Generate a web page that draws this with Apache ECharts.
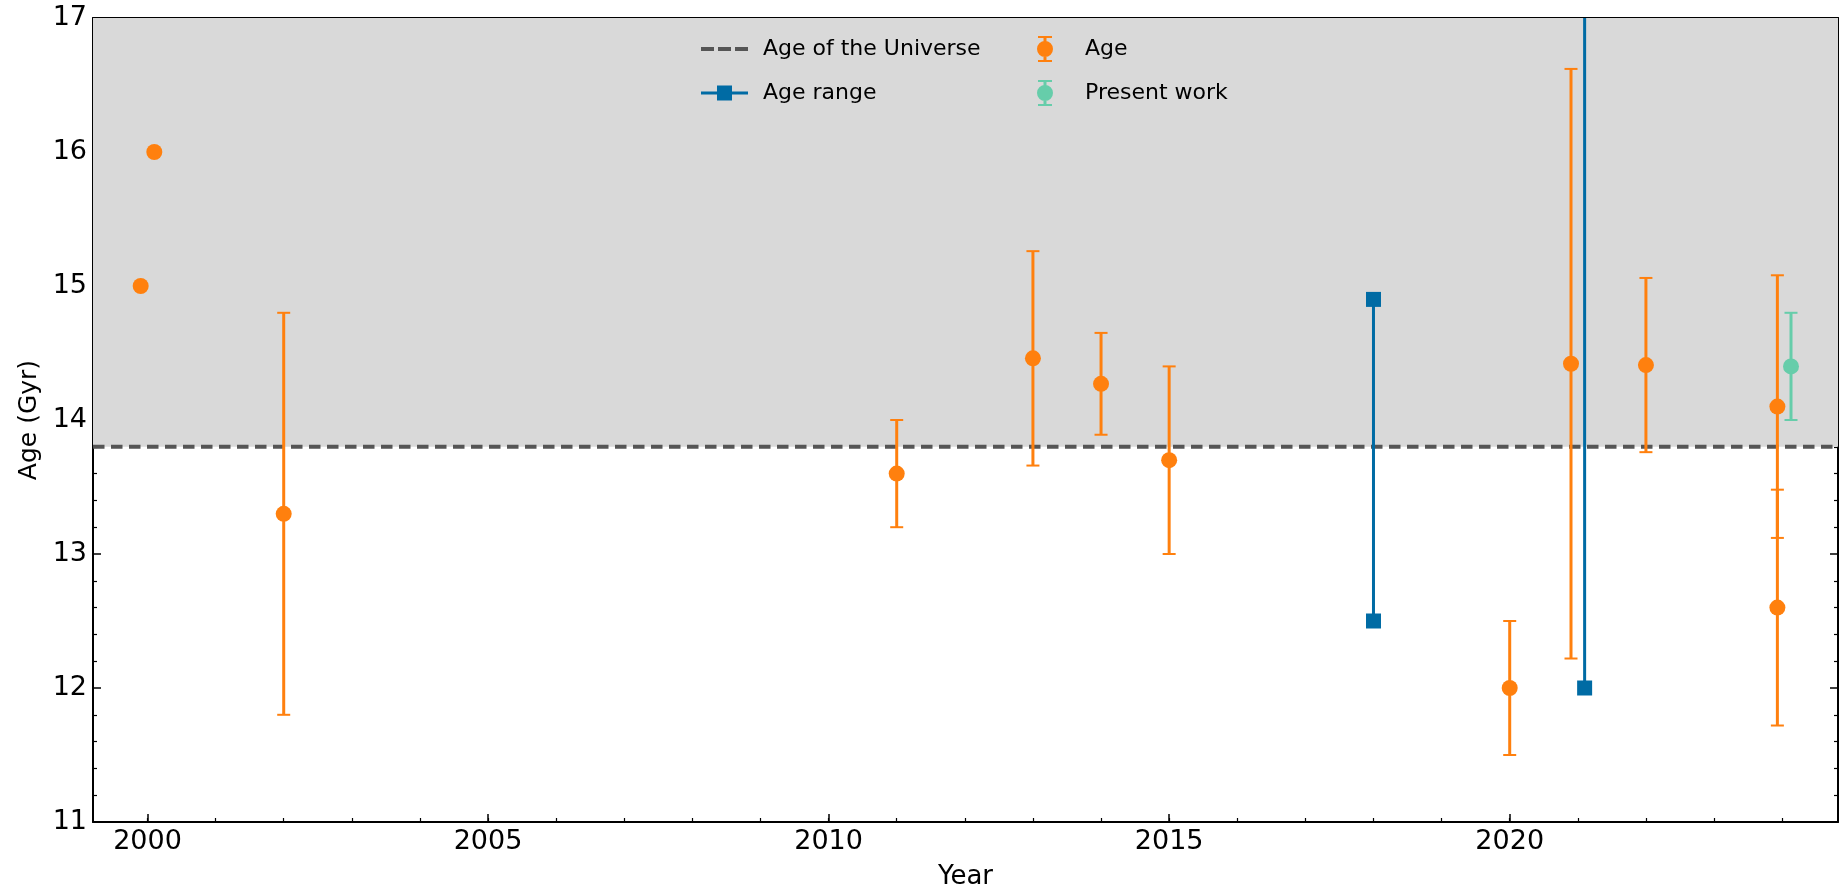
<!DOCTYPE html>
<html>
<head>
<meta charset="utf-8">
<script src="https://cdn.jsdelivr.net/npm/echarts@6/dist/echarts.min.js"></script>
<style>html,body{margin:0;padding:0;background:#fff}#c{width:1847px;height:891px}</style>
</head>
<body>
<div id="c"></div>
<script>
// ---------- data ----------
const xMajorTicks = [2000, 2005, 2010, 2015, 2020];
const xMinorTicks = [2000, 2001, 2002, 2003, 2004, 2005, 2006, 2007, 2008, 2009, 2010, 2011, 2012,
                     2013, 2014, 2015, 2016, 2017, 2018, 2019, 2020, 2021, 2022, 2023, 2024];
const yTickLabels = [11, 12, 13, 14, 15, 16, 17];
const X_MIN = 1999.2, X_MAX = 2024.82, Y_MIN = 11, Y_MAX = 17;

const ageOfUniverse = 13.8;

const ageYears  = [1999.9, 2000.1, 2002, 2011, 2013, 2014, 2015, 2020, 2020.9, 2022, 2023.93, 2023.93];
const ageValues = [15.0, 16.0, 13.3, 13.6, 14.46, 14.27, 13.7, 12.0, 14.42, 14.41, 14.1, 12.6];
const ageErrors = [0, 0, 1.5, 0.4, 0.8, 0.38, 0.7, 0.5, 2.2, 0.65, 0.98, 0.88];

const rangeYears = [2018, 2021.1];
const rangeLow   = [12.5, 12.0];
const rangeHigh  = [14.9, 18.0];

const presentYears  = [2024.13];
const presentValues = [14.4];
const presentErrors = [0.4];

// ---------- styles ----------
const FONT = 'DejaVu Sans';
const ORANGE = '#ff800e', BLUE = '#006ba4', GREEN = '#66cdaa', DASH = '#555555', SHADE = '#d9d9d9';

const ICON_DASH = 'path://M0 0H13V4H0Z M17 0H30V4H17Z M34 0H47V4H34Z';
const ICON_RANGE = 'path://M0 6H47V9H0Z M16 0H31V15H16Z';
const ICON_ERR = 'path://M1 0H15V2H1Z M1 24H15V26H1Z M6.5 0H9.5V26H6.5Z M0 13A8 8 0 1 1 16 13A8 8 0 1 1 0 13Z';

function errorBarRenderer(color) {
  return function (params, api) {
    const x = api.value(0), y = api.value(1), e = api.value(2);
    const c = api.coord([x, y]);
    const kids = [];
    if (e > 0) {
      const t = api.coord([x, y + e]), b = api.coord([x, y - e]);
      kids.push({type: 'line', shape: {x1: c[0], y1: t[1], x2: c[0], y2: b[1]}, style: {stroke: color, lineWidth: 3}});
      kids.push({type: 'line', shape: {x1: c[0] - 6.5, y1: t[1], x2: c[0] + 6.5, y2: t[1]}, style: {stroke: color, lineWidth: 2}});
      kids.push({type: 'line', shape: {x1: c[0] - 6.5, y1: b[1], x2: c[0] + 6.5, y2: b[1]}, style: {stroke: color, lineWidth: 2}});
    }
    kids.push({type: 'circle', shape: {cx: c[0], cy: c[1], r: 8}, style: {fill: color}});
    return {type: 'group', children: kids};
  };
}

function rangeRenderer(params, api) {
  const x = api.value(0), lo = api.value(1), hi = api.value(2);
  const a = api.coord([x, lo]), b = api.coord([x, hi]);
  const s = 15;
  return {type: 'group', children: [
    {type: 'line', shape: {x1: a[0], y1: a[1], x2: b[0], y2: b[1]}, style: {stroke: BLUE, lineWidth: 3}},
    {type: 'rect', shape: {x: a[0] - s / 2, y: a[1] - s / 2, width: s, height: s}, style: {fill: BLUE}},
    {type: 'rect', shape: {x: b[0] - s / 2, y: b[1] - s / 2, width: s, height: s}, style: {fill: BLUE}}
  ]};
}

const ageData = ageYears.map((x, i) => [x, ageValues[i], ageErrors[i]]);
const presentData = presentYears.map((x, i) => [x, presentValues[i], presentErrors[i]]);
const rangeData = rangeYears.map((x, i) => [x, rangeLow[i], rangeHigh[i]]);

function legend(name, icon, w, h, left, top, pad) {
  return {
    data: [name], icon: icon, itemWidth: w, itemHeight: h, left: left, top: top, padding: 0,
    selectedMode: false, orient: 'vertical',
    textStyle: {fontFamily: FONT, fontSize: 22, color: '#000', lineHeight: 26, padding: [0, 0, 0, pad]}
  };
}

const axisBase = {
  type: 'value', min: X_MIN, max: X_MAX,
  splitLine: {show: false}
};

const chart = echarts.init(document.getElementById('c'));
chart.setOption({
  animation: false,
  backgroundColor: '#fff',
  grid: {left: 93, right: 9, top: 18, bottom: 69, containLabel: false, outerBoundsMode: 'none'},
  legend: [
    legend('Age of the Universe', ICON_DASH, 47, 4, 701, 36, 10),
    legend('Age range', ICON_RANGE, 47, 15, 701, 80, 10),
    legend('Age', ICON_ERR, 16, 26, 1037, 36, 27),
    legend('Present work', ICON_ERR, 16, 26, 1037, 80, 27)
  ],
  xAxis: [
    Object.assign({}, axisBase, {
      position: 'bottom',
      axisLine: {show: true, lineStyle: {color: '#000', width: 2}},
      axisTick: {show: true, inside: true, length: 8, lineStyle: {color: '#000', width: 1.5}, customValues: xMajorTicks},
      axisLabel: {show: true, customValues: xMajorTicks, formatter: v => String(v),
                  fontFamily: FONT, fontSize: 27, color: '#000', margin: 6},
      name: 'Year', nameLocation: 'middle', nameGap: 42,
      nameTextStyle: {fontFamily: FONT, fontSize: 26, color: '#000'}
    }),
    Object.assign({}, axisBase, {
      position: 'bottom',
      axisLine: {show: false},
      axisTick: {show: true, inside: true, length: 4, lineStyle: {color: '#000', width: 1.2}, customValues: xMinorTicks},
      axisLabel: {show: false}
    }),
    Object.assign({}, axisBase, {
      position: 'top',
      axisLine: {show: true, lineStyle: {color: '#000', width: 2}},
      axisTick: {show: true, inside: true, length: 8, lineStyle: {color: '#000', width: 1.5}, customValues: xMajorTicks},
      axisLabel: {show: false}
    }),
    Object.assign({}, axisBase, {
      position: 'top',
      axisLine: {show: false},
      axisTick: {show: true, inside: true, length: 4, lineStyle: {color: '#000', width: 1.2}, customValues: xMinorTicks},
      axisLabel: {show: false}
    })
  ],
  yAxis: [
    {
      type: 'value', min: Y_MIN, max: Y_MAX, interval: 1, position: 'left',
      splitLine: {show: false},
      axisLine: {show: true, lineStyle: {color: '#000', width: 2}},
      axisTick: {show: true, inside: true, length: 8, lineStyle: {color: '#000', width: 1.5}},
      minorTick: {show: true, splitNumber: 5, length: 4, lineStyle: {color: '#000', width: 1.2}},
      axisLabel: {show: true, customValues: yTickLabels, fontFamily: FONT, fontSize: 27, color: '#000', margin: 6},
      name: 'Age (Gyr)', nameLocation: 'middle', nameGap: 50,
      nameTextStyle: {fontFamily: FONT, fontSize: 25, color: '#000'}
    },
    {
      type: 'value', min: Y_MIN, max: Y_MAX, interval: 1, position: 'right',
      splitLine: {show: false},
      axisLine: {show: true, lineStyle: {color: '#000', width: 2}},
      axisTick: {show: true, inside: true, length: 8, lineStyle: {color: '#000', width: 1.5}},
      minorTick: {show: true, splitNumber: 5, length: 4, lineStyle: {color: '#000', width: 1.2}},
      axisLabel: {show: false}
    }
  ],
  series: [
    {
      name: '__shade', type: 'line', data: [], z: 0, silent: true,
      markArea: {silent: true, itemStyle: {color: SHADE, opacity: 1},
        data: [[{yAxis: ageOfUniverse}, {yAxis: Y_MAX}]]}
    },
    {
      name: 'Age of the Universe', type: 'line', z: 3, symbol: 'none', silent: true,
      data: [[X_MIN, ageOfUniverse], [X_MAX, ageOfUniverse]],
      itemStyle: {color: DASH},
      lineStyle: {color: DASH, width: 4, type: [11.5, 6.5]}
    },
    {
      name: 'Age range', type: 'custom', z: 4, clip: true, silent: true,
      itemStyle: {color: BLUE},
      encode: {x: 0, y: [1, 2]},
      renderItem: rangeRenderer, data: rangeData
    },
    {
      name: 'Age', type: 'custom', z: 5, clip: true, silent: true,
      itemStyle: {color: ORANGE},
      encode: {x: 0, y: 1},
      renderItem: errorBarRenderer(ORANGE), data: ageData
    },
    {
      name: 'Present work', type: 'custom', z: 5, clip: true, silent: true,
      itemStyle: {color: GREEN},
      encode: {x: 0, y: 1},
      renderItem: errorBarRenderer(GREEN), data: presentData
    }
  ]
});
</script>
</body>
</html>
